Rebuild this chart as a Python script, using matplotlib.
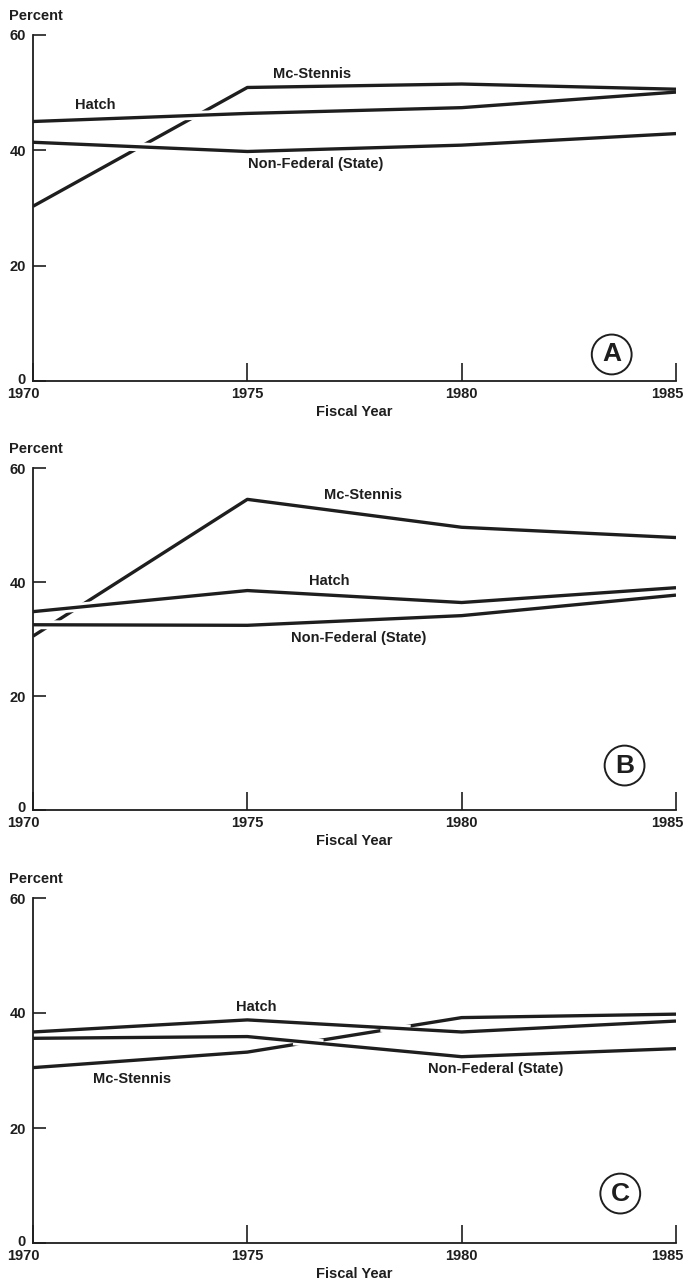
import matplotlib
matplotlib.use("Agg")
import matplotlib.pyplot as plt
import matplotlib.transforms as mtransforms
import numpy as np

plt.rcParams["font.family"] = ["Liberation Sans", "DejaVu Sans"]
plt.rcParams["font.weight"] = "bold"

years = [1970, 1975, 1980, 1985]
series_names = ["Mc-Stennis", "Hatch", "Non-Federal (State)"]

# panel A
a_mcstennis = [30.3, 50.9, 51.5, 50.6]
a_hatch = [45.0, 46.4, 47.4, 50.1]
a_nonfed = [41.4, 39.8, 40.9, 42.9]

# panel B
b_mcstennis = [30.5, 54.5, 49.6, 47.8]
b_hatch = [34.8, 38.5, 36.4, 39.0]
b_nonfed = [32.5, 32.4, 34.1, 37.7]

# panel C
c_mcstennis = [30.5, 33.2, 39.2, 39.8]
c_hatch = [36.7, 38.8, 36.7, 38.6]
c_nonfed = [35.6, 35.9, 32.4, 33.8]

panel_letters = ["A", "B", "C"]
yticks = [0, 20, 40, 60]

# label positions (data coords) per panel: mc, hatch, nonfed
label_pos = [
    [(1976.5, 53.3), (1971.45, 47.8), (1976.6, 37.6)],
    [(1977.7, 55.3), (1976.9, 40.2), (1977.6, 30.1)],
    [(1972.3, 28.5), (1975.2, 41.0), (1980.8, 30.3)],
]
letter_pos = [(1983.5, 4.6), (1983.8, 7.8), (1983.7, 8.6)]

# axes boxes in pixels: (top, bottom)
H = 1283
W = 690
boxes = [(35, 381), (468, 810), (898, 1243)]

INK = "#1e1e1e"
LW = 2.4


def crossings(xs, ya, yb):
    out = []
    for i in range(len(xs) - 1):
        d0 = ya[i] - yb[i]
        d1 = ya[i + 1] - yb[i + 1]
        if d0 * d1 < 0:
            t = d0 / (d0 - d1)
            out.append(xs[i] + t * (xs[i + 1] - xs[i]))
    return out


def shift(txt, dx, dy):
    txt.set_transform(txt.get_transform() +
                      mtransforms.ScaledTranslation(dx / 100, dy / 100, fig.dpi_scale_trans))


fig = plt.figure(figsize=(W / 100, H / 100), dpi=100)
panels = [
    (a_mcstennis, a_hatch, a_nonfed),
    (b_mcstennis, b_hatch, b_nonfed),
    (c_mcstennis, c_hatch, c_nonfed),
]

for k, (mc, ha, nf) in enumerate(panels):
    top, bot = boxes[k]
    ax = fig.add_axes([33 / W, 1 - bot / H, 643 / W, (bot - top) / H])
    ax.set_xlim(1970, 1985)
    ax.set_ylim(0, 60)
    for s in ["top", "right"]:
        ax.spines[s].set_visible(False)
    for s in ["left", "bottom"]:
        ax.spines[s].set_linewidth(1.3)
        ax.spines[s].set_color(INK)
        ax.spines[s].set_zorder(5)

    # Mc-Stennis goes underneath; break it where the other lines cross it
    ax.plot(years, mc, color=INK, lw=LW, solid_capstyle="butt", zorder=2)
    for other in (ha, nf):
        for xc in crossings(years, mc, other):
            xx = np.linspace(xc - 0.35, xc + 0.35, 10)
            ax.plot(xx, np.interp(xx, years, other), color="white",
                    lw=LW + 4, solid_capstyle="butt", zorder=3)
    ax.plot(years, ha, color=INK, lw=LW, solid_capstyle="butt", zorder=4)
    ax.plot(years, nf, color=INK, lw=LW, solid_capstyle="butt", zorder=4)

    for name, (tx, ty) in zip(series_names, label_pos[k]):
        ax.text(tx, ty, name, ha="center", va="center", fontsize=10.5,
                color=INK)

    lx, ly = letter_pos[k]
    ax.text(lx, ly, panel_letters[k], ha="center", va="center", fontsize=19,
            color=INK,
            bbox=dict(boxstyle="circle,pad=0.3", fc="white", ec=INK, lw=1.4))

    ax.set_yticks(yticks)
    ax.set_xticks(years)
    ax.set_xticklabels([str(y) for y in years])
    ax.tick_params(axis="y", direction="in", length=9, width=1.2,
                   labelsize=10.5, colors=INK, pad=5)
    ax.tick_params(axis="x", direction="in", length=13, width=1.2,
                   labelsize=10.5, colors=INK, pad=4)

    # nudge edge labels like the printed original
    shift(ax.get_yticklabels()[0], 0, 3)
    xlabs = ax.get_xticklabels()
    shift(xlabs[0], -10, 0)
    shift(xlabs[-1], -9, 0)

    ax.set_xlabel("Fiscal Year", fontsize=10.5, color=INK, labelpad=3,
                  fontweight="bold")
    ax.text(-0.038, 1.035, "Percent", transform=ax.transAxes, ha="left",
            va="bottom", fontsize=10.5, color=INK)

fig.savefig("out.png", dpi=100, facecolor="white")
